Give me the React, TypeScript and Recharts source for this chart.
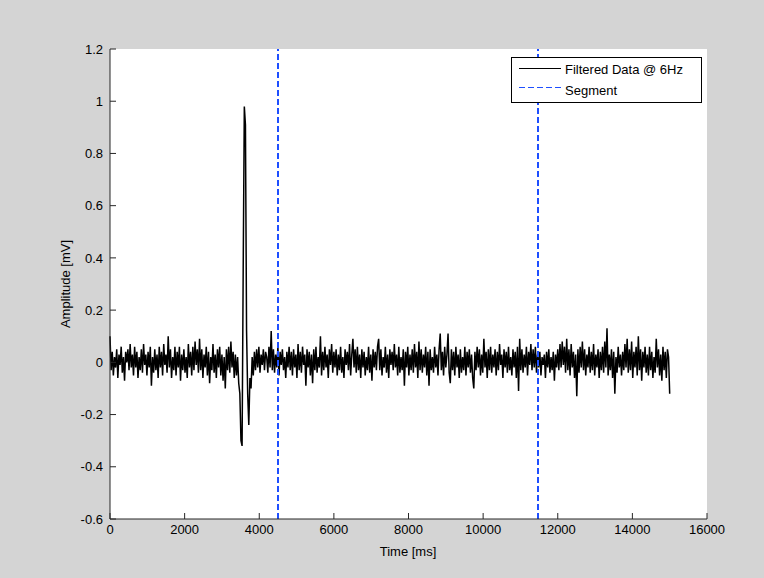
import { LineChart, Line, XAxis, YAxis, CartesianGrid, ReferenceLine } from 'recharts';

// sampled every 30 ms, 0 .. 15000 ms
const SAMPLE_MS = 30;

const filteredMv = [
  0.10, -0.03, 0.04, -0.05, 0.02, -0.02, 0.05, -0.06, 0.03, -0.01, 0.06, -0.04, 0.02, -0.07, 0.04, 0.00, 0.05, -0.03, 0.07, -0.02,
  0.03, -0.05, 0.06, -0.02, 0.04, -0.06, 0.02, -0.03, 0.05, -0.04, 0.07, -0.01, 0.03, -0.05, 0.04, -0.02, 0.06, -0.09, 0.02, -0.04,
  0.05, -0.03, 0.03, -0.06, 0.06, -0.02, 0.04, -0.05, 0.07, -0.01, 0.03, -0.04, 0.10, -0.02, 0.05, -0.06, 0.02, -0.03, 0.06, -0.05,
  0.04, -0.02, 0.06, -0.07, 0.03, -0.03, 0.05, -0.04, 0.02, -0.06, 0.07, -0.02, 0.04, -0.05, 0.06, -0.03, 0.08, -0.01, 0.05, -0.04,
  0.09, -0.03, 0.05, -0.06, 0.03, -0.02, 0.06, -0.05, 0.04, -0.08, 0.02, -0.03, 0.07, -0.04, 0.03, -0.06, 0.05, -0.02, 0.06, -0.05,
  0.03, -0.07, 0.02, -0.10, 0.05, -0.03, 0.06, -0.04, 0.08, -0.02, 0.04, -0.06, 0.03, -0.05, 0.02, -0.08, -0.12, -0.30, -0.32, 0.36,
  0.98, 0.91, 0.12, -0.12, -0.24, -0.06, -0.10, 0.02, -0.05, 0.04, -0.03, 0.05, -0.02, 0.06, -0.04, 0.03, -0.01, 0.05, -0.03, 0.04,
  0.02, -0.04, 0.06, -0.02, 0.12, -0.03, 0.05, -0.04, 0.03, -0.02, 0.06, -0.05, 0.04, -0.01, 0.05, -0.03, 0.02, -0.06, 0.04, -0.02,
  0.06, -0.03, 0.04, -0.05, 0.05, -0.02, 0.03, -0.06, 0.07, -0.03, 0.04, -0.04, 0.06, -0.01, 0.03, -0.09, 0.05, -0.02, 0.04, -0.05,
  0.03, -0.08, 0.05, -0.03, 0.06, -0.04, 0.02, -0.02, 0.10, -0.05, 0.04, -0.03, 0.06, -0.02, 0.03, -0.06, 0.05, -0.01, 0.07, -0.04,
  0.04, -0.02, 0.05, -0.05, 0.03, -0.03, 0.06, -0.04, 0.02, -0.06, 0.05, -0.01, 0.04, -0.03, 0.07, -0.05, 0.03, 0.09, -0.02, 0.05,
  -0.04, 0.06, -0.03, 0.03, -0.06, 0.05, -0.02, 0.04, -0.05, 0.02, -0.03, 0.06, -0.04, 0.03, -0.07, 0.05, -0.02, 0.04, -0.03, 0.06,
  0.09, -0.03, 0.05, -0.05, 0.02, -0.02, 0.06, -0.04, 0.03, -0.06, 0.05, -0.01, 0.04, -0.03, 0.07, -0.02, 0.03, -0.05, 0.06, -0.04,
  0.02, -0.03, 0.05, -0.09, 0.04, -0.02, 0.06, -0.05, 0.03, -0.03, 0.05, -0.04, 0.07, -0.02, 0.04, -0.06, 0.08, -0.03, 0.05, -0.04,
  0.03, -0.02, 0.06, -0.05, 0.04, -0.09, 0.05, -0.03, 0.02, -0.04, 0.06, -0.02, 0.03, -0.05, 0.05, 0.11, -0.03, 0.04, -0.05, 0.06,
  -0.02, 0.03, 0.11, -0.04, -0.08, 0.05, -0.03, 0.04, -0.05, 0.06, -0.02, 0.03, -0.06, 0.05, -0.04, 0.02, -0.03, 0.06, -0.05, 0.04,
  -0.02, 0.05, -0.04, 0.03, -0.06, -0.10, 0.04, -0.03, 0.06, -0.02, 0.05, -0.05, 0.03, -0.04, 0.09, -0.02, 0.04, -0.06, 0.05, -0.03,
  0.06, -0.04, 0.03, -0.02, 0.05, -0.05, 0.04, -0.03, 0.07, -0.01, 0.03, -0.06, 0.05, -0.02, 0.04, -0.04, 0.06, -0.03, 0.02, -0.05,
  0.05, -0.02, 0.04, -0.06, 0.06, -0.11, 0.09, -0.03, 0.05, -0.04, 0.03, -0.02, 0.06, -0.05, 0.04, -0.01, 0.07, -0.03, 0.05, -0.02,
  0.06, -0.04, 0.03, -0.02, 0.04, -0.05, 0.02, -0.01, 0.03, -0.06, 0.04, -0.02, 0.05, -0.04, 0.02, -0.03, 0.04, -0.07, 0.03, -0.02,
  0.05, -0.03, 0.07, -0.02, 0.08, -0.01, 0.06, -0.04, 0.09, -0.03, 0.05, -0.05, 0.07, -0.02, 0.04, -0.06, 0.03, -0.13, 0.05, -0.04,
  0.06, -0.02, 0.08, -0.03, 0.05, -0.05, 0.03, -0.02, 0.06, -0.04, 0.04, -0.03, 0.07, -0.05, 0.03, -0.02, 0.05, -0.06, 0.04, -0.03,
  0.06, -0.04, 0.08, -0.02, 0.13, -0.05, 0.03, -0.03, 0.05, -0.06, 0.04, -0.12, 0.02, -0.04, 0.06, -0.02, 0.03, -0.05, 0.04, -0.03,
  0.07, -0.02, 0.09, -0.04, 0.05, -0.03, 0.08, -0.06, 0.04, -0.02, 0.06, -0.05, 0.10, -0.03, 0.05, -0.07, 0.04, -0.02, 0.06, -0.04,
  0.03, -0.05, 0.06, -0.03, 0.04, -0.06, 0.02, -0.04, 0.09, -0.02, 0.05, -0.05, 0.03, -0.07, 0.06, -0.03, 0.04, -0.06, 0.05, 0.02,
  -0.12,
];

const segmentTimesMs = [4500, 11470];

const xTicks = [0, 2000, 4000, 6000, 8000, 10000, 12000, 14000, 16000];
const yTicks = [-0.6, -0.4, -0.2, 0, 0.2, 0.4, 0.6, 0.8, 1, 1.2];

const data = filteredMv.map((v, i) => ({ t: i * SAMPLE_MS, v }));

const FONT = '"Liberation Sans", Arial, Helvetica, sans-serif';
const AXIS = '#262626';
const BLUE = '#1e4fff';
const tickStyle = { fontSize: 13, fill: '#000', fontFamily: FONT };
const fmtY = (v: number) => String(Number(v.toFixed(1)));

export default function App() {
  return (
    <div style={{ position: 'absolute', left: 0, top: 0, width: 764, height: 578, background: '#d4d4d4', fontFamily: FONT }}>
      <LineChart width={764} height={578} data={data} margin={{ top: 49, right: 57, bottom: 29, left: 50 }}>
        <CartesianGrid horizontal={false} vertical={false} fill="#ffffff" />
        <XAxis
          dataKey="t"
          type="number"
          domain={[0, 16000]}
          ticks={xTicks}
          height={30}
          tick={tickStyle}
          tickSize={-6}
          tickMargin={12}
          tickLine={{ stroke: AXIS }}
          axisLine={{ stroke: AXIS }}
          label={{
            content: () => (
              <text x={408} y={556} textAnchor="middle" fontSize={13} fontFamily={FONT} fill="#000">Time [ms]</text>
            ),
          }}
        />
        <XAxis
          xAxisId="top"
          orientation="top"
          type="number"
          domain={[0, 16000]}
          ticks={xTicks}
          height={0}
          tickFormatter={() => ''}
          tickSize={-6}
          tickLine={{ stroke: AXIS }}
          axisLine={{ stroke: AXIS }}
          label={{
            content: () => (
              <text x={408} y={35} textAnchor="middle" fontSize={13} fontFamily={FONT} fill="#000">
                Moving Average Filtered Data WITH Segment Lines
              </text>
            ),
          }}
        />
        <YAxis
          type="number"
          domain={[-0.6, 1.2]}
          ticks={yTicks}
          width={60}
          tick={tickStyle}
          tickFormatter={fmtY}
          tickSize={-6}
          tickMargin={13}
          tickLine={{ stroke: AXIS }}
          axisLine={{ stroke: AXIS }}
          label={{
            content: () => (
              <text x={70} y={284} transform="rotate(-90 70 284)" textAnchor="middle" fontSize={13} fontFamily={FONT} fill="#000">
                Amplitude [mV]
              </text>
            ),
          }}
        />
        <YAxis
          yAxisId="right"
          orientation="right"
          type="number"
          domain={[-0.6, 1.2]}
          ticks={yTicks}
          width={0}
          tickFormatter={() => ''}
          tickSize={-6}
          tickLine={{ stroke: AXIS }}
          axisLine={{ stroke: AXIS }}
        />
        <Line
          type="linear"
          dataKey="v"
          stroke="#000"
          strokeWidth={1.5}
          strokeLinejoin="miter"
          dot={false}
          isAnimationActive={false}
        />
        {segmentTimesMs.map((t) => (
          <ReferenceLine key={t} x={t} stroke={BLUE} strokeWidth={1.2} strokeDasharray="6 3" shapeRendering="crispEdges" />
        ))}
      </LineChart>
      <svg width={191} height={46} style={{ position: 'absolute', left: 511, top: 57 }}>
        <rect x={0.5} y={0.5} width={190} height={45} fill="#fff" stroke="#000" />
        <line x1={8} x2={50} y1={11.5} y2={11.5} stroke="#000" strokeWidth={1} />
        <text x={54} y={16.5} fontSize={13} fontFamily={FONT} fill="#000">Filtered Data @ 6Hz</text>
        <line x1={8} x2={50} y1={30.5} y2={30.5} stroke={BLUE} strokeWidth={1} strokeDasharray="6 3" />
        <text x={54} y={38} fontSize={13} fontFamily={FONT} fill="#000">Segment</text>
      </svg>
    </div>
  );
}
